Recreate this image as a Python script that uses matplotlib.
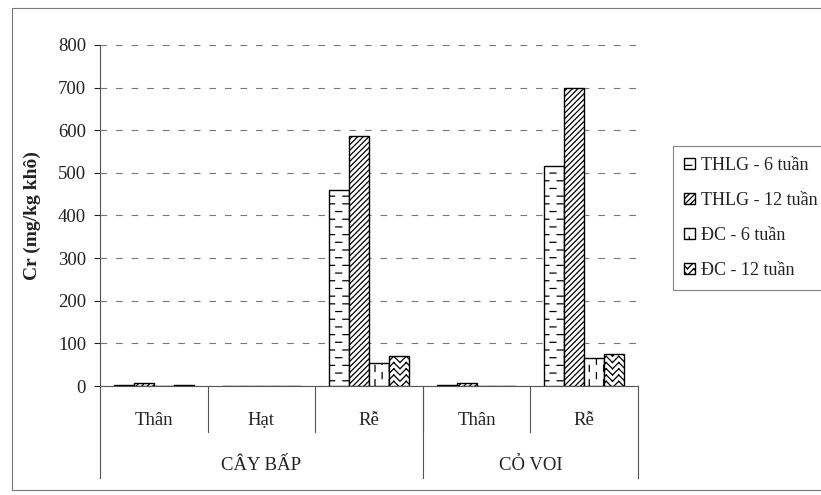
import matplotlib
matplotlib.use("Agg")
import matplotlib.pyplot as plt
import matplotlib.hatch as mhatch
from matplotlib.path import Path
from matplotlib.patches import Rectangle
import numpy as np

plt.rcParams["font.family"] = ["Liberation Serif", "DejaVu Serif"]
plt.rcParams["hatch.linewidth"] = 0.9

categories = ["Thân", "Hạt", "Rễ", "Thân", "Rễ"]
groups = ["CÂY BẤP", "CỎ VOI"]
group_spans = [(0, 2), (3, 4)]  # first and last category index of each group

series = ["THLG - 6 tuần", "THLG - 12 tuần", "ĐC - 6 tuần", "ĐC - 12 tuần"]
thlg_6 = [3, 0, 460, 3, 517]
thlg_12 = [6, 0, 587, 6, 700]
dc_6 = [0, 0, 55, 0, 65]
dc_12 = [3, 0, 70, 0, 76]
values = [thlg_6, thlg_12, dc_6, dc_12]
hatches = ["-", "//////", "|", "o"]

yticks = [0, 100, 200, 300, 400, 500, 600, 700, 800]


# excel-like fills: '-' short horizontal dashes, '|' short vertical dashes,
# 'o' herringbone.  segments live in the unit hatch tile
def dash_segs(rows, per_row, length):
    segs = []
    for r in range(rows):
        y = (r + 0.5) / rows
        off = 0.5 / per_row if r % 2 else 0.0
        for k in range(per_row):
            x0 = k / per_row + off
            segs.append([(x0, y), (x0 + length, y)])
    return segs


def herring_segs(n):
    d = 1.0 / n
    segs = []
    for k in range(n):
        for j in range(n):
            if k % 2 == 0:
                segs.append([(k * d, j * d), ((k + 1) * d, (j + 1) * d)])
            else:
                segs.append([(k * d, (j + 1) * d), ((k + 1) * d, j * d)])
    return segs


class SegHatch(mhatch.HatchPatternBase):
    char = None

    def __init__(self, hatch, density):
        self.segs = self.make() if self.char in hatch else []
        self.num_vertices = 2 * len(self.segs)

    def set_vertices_and_codes(self, vertices, codes):
        vertices[:] = np.array(self.segs, dtype=float).reshape(-1, 2)
        codes[0::2] = Path.MOVETO
        codes[1::2] = Path.LINETO


class DashH(SegHatch):
    char = "-"

    def make(self):
        return dash_segs(13, 7, 0.06)


class DashV(SegHatch):
    char = "|"

    def make(self):
        return [[(y, x) for x, y in s] for s in dash_segs(14, 7, 0.06)]


class Herring(SegHatch):
    char = "o"

    def make(self):
        return herring_segs(16)


mhatch._hatch_types = [DashH, DashV, Herring] + [
    t for t in mhatch._hatch_types
    if t not in (mhatch.HorizontalHatch, mhatch.VerticalHatch,
                 mhatch.SmallCircles)]

fig = plt.figure(figsize=(8.21, 4.95), dpi=100)
ax = fig.add_axes([0.1218, 0.2202, 0.6552, 0.689])

x = np.arange(len(categories))
w = 0.185
for i, (vals, h) in enumerate(zip(values, hatches)):
    ax.bar(x + (i - 1.5) * w, vals, w, facecolor="white", edgecolor="black",
           linewidth=1.0, hatch=h, label=series[i], zorder=3)

ax.set_xlim(-0.5, len(categories) - 0.5)
ax.set_ylim(0, 800)
ax.set_yticks(yticks)
ax.tick_params(axis="y", labelsize=13.5, length=4, pad=6, colors="#222222")
ax.tick_params(axis="x", length=0, labelbottom=False)
ax.yaxis.grid(True, color="#777777", linestyle=(0, (6, 8)), linewidth=0.8)
for s in ["top", "right"]:
    ax.spines[s].set_visible(False)
for s in ["left", "bottom"]:
    ax.spines[s].set_color("#555555")
    ax.spines[s].set_linewidth(0.8)

ax.set_ylabel("Cr (mg/kg khô)", fontsize=14, fontweight="bold",
              color="#222222", labelpad=12)

# two-level category axis
trans = ax.get_xaxis_transform()
for i, c in enumerate(categories):
    ax.text(i, -0.1, c, transform=trans, ha="center", va="center",
            fontsize=13.5, color="#222222")
for b in np.arange(0.5, len(categories) - 1):
    ax.plot([b, b], [0, -0.135], transform=trans, color="#555555",
            lw=0.8, clip_on=False)
outer = [-0.5] + [s[1] + 0.5 for s in group_spans]
for b in outer:
    ax.plot([b, b], [0, -0.27], transform=trans, color="#555555",
            lw=0.8, clip_on=False)
for g, (a, b) in zip(groups, group_spans):
    ax.text((a + b) / 2, -0.232, g, transform=trans, ha="center",
            va="center", fontsize=13.5, color="#222222")

leg = ax.legend(loc="upper left", bbox_to_anchor=(673 / 821, 1 - 146 / 495),
                bbox_transform=fig.transFigure, fontsize=13, frameon=True,
                fancybox=False, edgecolor="#666666", handlelength=0.6,
                handleheight=0.6, handletextpad=0.35, labelspacing=1.0,
                borderpad=0.6, borderaxespad=0)
leg.get_frame().set_linewidth(0.8)
for t in leg.get_texts():
    t.set_color("#222222")

fig.patches.append(Rectangle((12 / 821, 5 / 495), 1.0, 482 / 495,
                             transform=fig.transFigure, fill=False,
                             edgecolor="#777777", linewidth=0.8))

fig.savefig("out.png", dpi=100)
